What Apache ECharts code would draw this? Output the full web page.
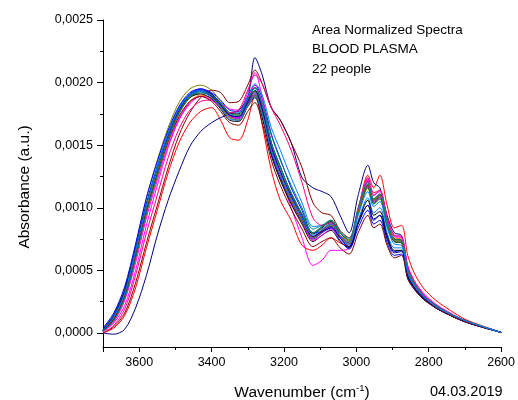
<!DOCTYPE html>
<html>
<head>
<meta charset="utf-8">
<script src="https://cdn.jsdelivr.net/npm/echarts@6/dist/echarts.min.js"></script>
<style>
html,body{margin:0;padding:0;background:#fff;}
#chart{width:518px;height:400px;}
</style>
</head>
<body>
<div id="chart"></div>
<script>
// Wavenumber grid (cm-1)
const wavenumbers = [3700,3670,3640,3610,3580,3550,3520,3490,3460,3430,3400,3375,3350,3325,3300,3280,3260,3235,3210,3180,3150,3120,3095,3070,3045,3020,2995,2968,2952,2935,2915,2895,2875,2858,2840,2815,2780,2740,2700,2650,2600];

// Absorbance values for 22 spectra
const s01 = [0.1e-4,1.1e-4,3.0e-4,6.3e-4,9.9e-4,12.9e-4,15.7e-4,17.8e-4,19.0e-4,19.4e-4,19.1e-4,18.4e-4,17.6e-4,17.5e-4,18.7e-4,19.6e-4,18.2e-4,15.2e-4,13.3e-4,11.1e-4,9.4e-4,7.9e-4,8.4e-4,8.9e-4,8.0e-4,7.4e-4,9.9e-4,12.1e-4,10.7e-4,11.1e-4,8.9e-4,7.5e-4,7.4e-4,5.1e-4,4.0e-4,3.0e-4,2.2e-4,1.5e-4,1.0e-4,0.5e-4,0.05e-4];
const s02 = [0.0e-4,0.4e-4,1.4e-4,3.6e-4,6.8e-4,9.8e-4,12.8e-4,15.2e-4,16.8e-4,17.7e-4,18.0e-4,17.0e-4,15.6e-4,15.4e-4,17.0e-4,19.0e-4,16.6e-4,13.0e-4,10.6e-4,9.0e-4,7.0e-4,6.6e-4,7.0e-4,7.6e-4,7.2e-4,6.9e-4,9.8e-4,12.6e-4,11.6e-4,12.6e-4,10.2e-4,8.4e-4,8.6e-4,6.2e-4,4.8e-4,3.6e-4,2.6e-4,1.8e-4,1.1e-4,0.55e-4,0.05e-4];
const s03 = [0.2e-4,1.3e-4,3.2e-4,6.5e-4,10.2e-4,13.2e-4,15.9e-4,17.9e-4,19.1e-4,19.5e-4,19.2e-4,18.6e-4,17.8e-4,17.7e-4,18.9e-4,19.8e-4,18.7e-4,15.9e-4,13.9e-4,11.6e-4,9.8e-4,8.0e-4,8.1e-4,8.4e-4,7.6e-4,6.8e-4,8.8e-4,10.2e-4,9.0e-4,9.4e-4,7.6e-4,6.5e-4,6.6e-4,4.6e-4,3.6e-4,2.8e-4,2.0e-4,1.4e-4,0.9e-4,0.45e-4,0.05e-4];
const s04 = [0.1e-4,0.8e-4,2.2e-4,5.0e-4,8.6e-4,11.8e-4,14.8e-4,17.0e-4,18.3e-4,18.9e-4,18.8e-4,18.4e-4,17.9e-4,17.8e-4,19.2e-4,20.8e-4,18.8e-4,15.2e-4,12.6e-4,10.0e-4,7.6e-4,5.4e-4,5.8e-4,6.6e-4,6.6e-4,6.8e-4,9.6e-4,12.2e-4,11.0e-4,11.4e-4,9.2e-4,7.8e-4,7.7e-4,5.4e-4,4.2e-4,3.2e-4,2.3e-4,1.6e-4,1.0e-4,0.5e-4,0.05e-4];
const s05 = [0.3e-4,1.5e-4,3.6e-4,7.0e-4,10.8e-4,13.8e-4,16.4e-4,18.4e-4,19.5e-4,19.8e-4,19.4e-4,18.5e-4,17.6e-4,17.4e-4,18.6e-4,19.3e-4,17.8e-4,14.8e-4,12.8e-4,10.8e-4,9.1e-4,7.6e-4,8.2e-4,8.8e-4,7.8e-4,7.1e-4,9.4e-4,11.6e-4,10.3e-4,10.8e-4,8.6e-4,7.3e-4,7.2e-4,5.0e-4,3.9e-4,2.9e-4,2.1e-4,1.5e-4,1.0e-4,0.5e-4,0.05e-4];
const s06 = [0.0e-4,-0.1e-4,0.3e-4,2.0e-4,4.6e-4,7.8e-4,10.6e-4,12.9e-4,14.9e-4,16.1e-4,16.8e-4,17.2e-4,17.5e-4,17.8e-4,18.8e-4,22.0e-4,20.6e-4,18.0e-4,17.0e-4,15.2e-4,12.4e-4,11.6e-4,11.3e-4,10.9e-4,9.4e-4,8.0e-4,11.0e-4,13.4e-4,12.0e-4,11.6e-4,9.4e-4,8.0e-4,7.8e-4,5.2e-4,4.0e-4,3.0e-4,2.2e-4,1.5e-4,1.0e-4,0.5e-4,0.05e-4];
const s07 = [0.2e-4,1.2e-4,3.1e-4,6.4e-4,10.0e-4,13.0e-4,15.8e-4,17.8e-4,19.0e-4,19.4e-4,19.0e-4,18.2e-4,17.3e-4,17.1e-4,18.3e-4,19.1e-4,17.7e-4,14.7e-4,12.7e-4,10.7e-4,9.0e-4,7.6e-4,8.1e-4,8.6e-4,7.7e-4,7.1e-4,9.6e-4,11.7e-4,10.4e-4,10.8e-4,8.6e-4,7.3e-4,7.2e-4,4.9e-4,3.8e-4,2.9e-4,2.1e-4,1.5e-4,1.0e-4,0.5e-4,0.05e-4];
const s08 = [0.0e-4,0.5e-4,1.6e-4,4.0e-4,7.2e-4,10.2e-4,13.2e-4,15.8e-4,17.6e-4,18.8e-4,19.4e-4,19.2e-4,18.4e-4,18.5e-4,19.8e-4,21.0e-4,19.9e-4,18.0e-4,17.0e-4,15.2e-4,13.2e-4,10.4e-4,9.6e-4,9.4e-4,8.2e-4,7.6e-4,9.8e-4,11.8e-4,10.6e-4,11.0e-4,8.8e-4,7.5e-4,7.4e-4,5.1e-4,4.0e-4,3.0e-4,2.2e-4,1.5e-4,1.0e-4,0.5e-4,0.05e-4];
const s09 = [0.2e-4,1.2e-4,3.0e-4,6.2e-4,9.8e-4,12.8e-4,15.6e-4,17.6e-4,18.8e-4,19.2e-4,18.9e-4,18.2e-4,17.4e-4,17.3e-4,18.6e-4,19.6e-4,18.4e-4,15.8e-4,13.8e-4,11.8e-4,10.0e-4,8.3e-4,8.6e-4,9.0e-4,8.0e-4,7.4e-4,9.8e-4,11.9e-4,10.6e-4,11.0e-4,8.8e-4,7.4e-4,7.3e-4,5.0e-4,3.9e-4,3.0e-4,2.2e-4,1.5e-4,1.0e-4,0.5e-4,0.05e-4];
const s10 = [0.3e-4,1.4e-4,3.4e-4,6.8e-4,10.4e-4,13.4e-4,16.0e-4,18.0e-4,19.1e-4,19.4e-4,19.0e-4,18.4e-4,17.6e-4,17.6e-4,18.9e-4,19.9e-4,19.0e-4,16.4e-4,14.6e-4,12.4e-4,10.4e-4,8.5e-4,8.6e-4,8.8e-4,7.8e-4,7.0e-4,9.0e-4,10.8e-4,9.6e-4,10.0e-4,8.0e-4,6.8e-4,6.8e-4,4.7e-4,3.7e-4,2.8e-4,2.0e-4,1.4e-4,0.9e-4,0.45e-4,0.05e-4];
const s11 = [0.1e-4,1.0e-4,2.7e-4,5.8e-4,9.4e-4,12.4e-4,15.2e-4,17.2e-4,18.5e-4,19.0e-4,18.7e-4,18.0e-4,17.2e-4,17.0e-4,18.2e-4,19.0e-4,17.4e-4,14.3e-4,12.3e-4,10.4e-4,8.8e-4,7.4e-4,8.0e-4,8.6e-4,7.8e-4,7.4e-4,10.0e-4,12.4e-4,11.0e-4,11.4e-4,9.1e-4,7.6e-4,7.5e-4,5.2e-4,4.0e-4,3.1e-4,2.2e-4,1.5e-4,1.0e-4,0.5e-4,0.05e-4];
const s12 = [0.2e-4,1.1e-4,2.9e-4,6.1e-4,9.7e-4,12.7e-4,15.5e-4,17.6e-4,18.9e-4,19.3e-4,19.0e-4,18.2e-4,17.4e-4,17.2e-4,18.4e-4,19.2e-4,17.8e-4,14.8e-4,12.9e-4,10.9e-4,9.2e-4,7.7e-4,8.2e-4,8.7e-4,7.8e-4,7.2e-4,9.7e-4,11.8e-4,10.5e-4,10.9e-4,8.7e-4,7.3e-4,7.2e-4,4.9e-4,3.8e-4,2.9e-4,2.1e-4,1.5e-4,1.0e-4,0.5e-4,0.05e-4];
const s13 = [0.0e-4,0.6e-4,1.9e-4,4.6e-4,8.0e-4,11.0e-4,14.0e-4,16.3e-4,17.8e-4,18.5e-4,18.6e-4,18.2e-4,17.6e-4,17.8e-4,19.4e-4,20.6e-4,19.9e-4,18.0e-4,16.6e-4,14.6e-4,12.0e-4,9.2e-4,8.6e-4,8.8e-4,7.8e-4,7.2e-4,9.8e-4,12.4e-4,11.2e-4,11.4e-4,9.2e-4,7.8e-4,7.7e-4,5.3e-4,4.1e-4,3.1e-4,2.2e-4,1.5e-4,1.0e-4,0.5e-4,0.05e-4];
const s14 = [0.2e-4,1.2e-4,3.1e-4,6.3e-4,9.9e-4,12.9e-4,15.7e-4,17.7e-4,18.9e-4,19.3e-4,18.9e-4,18.1e-4,17.3e-4,17.2e-4,18.5e-4,19.3e-4,18.0e-4,15.2e-4,13.2e-4,11.2e-4,9.5e-4,8.0e-4,8.5e-4,9.0e-4,8.0e-4,7.3e-4,9.6e-4,11.6e-4,10.3e-4,10.7e-4,8.6e-4,7.3e-4,7.2e-4,5.0e-4,3.9e-4,3.0e-4,2.2e-4,1.5e-4,1.0e-4,0.5e-4,0.05e-4];
const s15 = [0.2e-4,1.3e-4,3.3e-4,6.6e-4,10.2e-4,13.1e-4,15.8e-4,17.7e-4,18.8e-4,19.1e-4,18.7e-4,17.9e-4,17.0e-4,16.9e-4,18.1e-4,18.8e-4,17.2e-4,14.2e-4,12.2e-4,10.3e-4,8.7e-4,7.3e-4,7.8e-4,8.2e-4,7.3e-4,6.8e-4,8.8e-4,10.6e-4,9.4e-4,9.7e-4,7.8e-4,6.6e-4,6.6e-4,4.6e-4,3.6e-4,2.8e-4,2.0e-4,1.4e-4,0.9e-4,0.45e-4,0.05e-4];
const s16 = [0.4e-4,1.6e-4,3.7e-4,7.1e-4,10.8e-4,13.7e-4,16.2e-4,18.1e-4,19.2e-4,19.5e-4,19.1e-4,18.3e-4,17.4e-4,17.2e-4,18.3e-4,19.0e-4,17.5e-4,14.4e-4,12.4e-4,10.5e-4,8.9e-4,7.5e-4,8.0e-4,8.4e-4,7.4e-4,6.7e-4,8.4e-4,9.8e-4,8.7e-4,9.0e-4,7.2e-4,6.2e-4,6.3e-4,4.4e-4,3.5e-4,2.7e-4,2.0e-4,1.4e-4,0.9e-4,0.45e-4,0.05e-4];
const s17 = [0.1e-4,0.9e-4,2.6e-4,5.6e-4,9.2e-4,12.2e-4,15.0e-4,17.1e-4,18.4e-4,18.9e-4,18.6e-4,18.0e-4,17.3e-4,17.2e-4,18.7e-4,19.8e-4,18.2e-4,15.0e-4,12.9e-4,10.8e-4,9.0e-4,7.4e-4,7.8e-4,8.3e-4,7.6e-4,7.2e-4,9.9e-4,12.3e-4,11.0e-4,11.3e-4,9.1e-4,7.7e-4,7.6e-4,5.2e-4,4.0e-4,3.1e-4,2.2e-4,1.5e-4,1.0e-4,0.5e-4,0.05e-4];
const s18 = [0.2e-4,1.2e-4,3.1e-4,6.4e-4,10.0e-4,13.0e-4,15.7e-4,17.7e-4,18.9e-4,19.3e-4,18.9e-4,18.1e-4,17.2e-4,17.0e-4,18.2e-4,19.0e-4,17.5e-4,14.6e-4,12.6e-4,10.6e-4,9.0e-4,7.6e-4,8.1e-4,8.6e-4,7.7e-4,7.1e-4,9.6e-4,11.9e-4,10.6e-4,11.0e-4,8.8e-4,7.4e-4,7.3e-4,5.0e-4,3.9e-4,3.0e-4,2.1e-4,1.5e-4,1.0e-4,0.5e-4,0.05e-4];
const s19 = [0.3e-4,1.4e-4,3.4e-4,6.7e-4,10.3e-4,13.2e-4,15.8e-4,17.8e-4,19.0e-4,19.3e-4,18.9e-4,18.2e-4,17.4e-4,17.3e-4,18.5e-4,19.4e-4,17.9e-4,14.9e-4,12.9e-4,10.9e-4,9.2e-4,7.7e-4,8.1e-4,8.5e-4,7.6e-4,6.9e-4,8.7e-4,10.2e-4,9.1e-4,9.4e-4,7.5e-4,6.4e-4,6.5e-4,4.5e-4,3.6e-4,2.8e-4,2.0e-4,1.4e-4,0.9e-4,0.45e-4,0.05e-4];
const s20 = [0.2e-4,1.1e-4,2.9e-4,6.1e-4,9.7e-4,12.6e-4,15.3e-4,17.3e-4,18.5e-4,18.9e-4,18.5e-4,17.7e-4,16.8e-4,16.6e-4,17.7e-4,18.4e-4,16.8e-4,13.8e-4,11.8e-4,9.9e-4,8.3e-4,6.9e-4,7.3e-4,7.6e-4,6.8e-4,6.3e-4,8.0e-4,9.4e-4,8.4e-4,8.7e-4,7.0e-4,6.0e-4,6.2e-4,4.3e-4,3.5e-4,2.7e-4,2.0e-4,1.4e-4,0.9e-4,0.45e-4,0.05e-4];
const s21 = [0.1e-4,1.0e-4,2.8e-4,6.0e-4,9.6e-4,12.6e-4,15.4e-4,17.5e-4,18.8e-4,19.3e-4,19.0e-4,18.3e-4,17.5e-4,17.4e-4,18.7e-4,19.6e-4,18.2e-4,15.2e-4,13.2e-4,11.2e-4,9.5e-4,8.0e-4,8.5e-4,9.0e-4,8.1e-4,7.5e-4,10.0e-4,12.0e-4,10.7e-4,11.1e-4,8.9e-4,7.5e-4,7.4e-4,5.1e-4,4.0e-4,3.0e-4,2.2e-4,1.5e-4,1.0e-4,0.5e-4,0.05e-4];
const s22 = [0.2e-4,1.3e-4,3.2e-4,6.6e-4,10.2e-4,13.2e-4,15.9e-4,17.9e-4,19.0e-4,19.3e-4,18.8e-4,18.0e-4,17.1e-4,17.0e-4,18.2e-4,18.9e-4,17.5e-4,14.6e-4,12.7e-4,10.8e-4,9.2e-4,7.8e-4,8.3e-4,8.7e-4,7.8e-4,7.2e-4,9.4e-4,11.3e-4,10.1e-4,10.5e-4,8.4e-4,7.1e-4,7.0e-4,4.8e-4,3.8e-4,2.9e-4,2.1e-4,1.5e-4,1.0e-4,0.5e-4,0.05e-4];

const spectra = [s01,s02,s03,s04,s05,s06,s07,s08,s09,s10,s11,s12,s13,s14,s15,s16,s17,s18,s19,s20,s21,s22];
const seriesColors = ['#000000','#FF0000','#0000FF','#FF00FF','#808000','#000080','#8000FF','#800000','#008080','#0080FF','#FF8000','#800080','#FF0080','#008000','#000000','#0000FF','#FF00FF','#808000','#000080','#800000','#008080','#0080FF'];

// Axis ticks
const yMajorTicks = [0, 0.0005, 0.0010, 0.0015, 0.0020, 0.0025];
const yMinorTicks = [0.00025, 0.00075, 0.00125, 0.00175, 0.00225];
const xMin = 2600, xMax = 3700, xStep = 200;
const yMin = -0.000112, yMax = 0.0025;

// Texts
const annotationLines = ['Area Normalized Spectra', 'BLOOD PLASMA', '22 people'];
const dateText = '04.03.2019';
const yTitle = 'Absorbance (a.u.)';

const FONT = '"Liberation Sans", Arial, sans-serif';

const chart = echarts.init(document.getElementById('chart'), null, {renderer: 'canvas'});

const series = spectra.map((vals, i) => ({
  name: 'Sample ' + (i + 1),
  type: 'line',
  xAxisIndex: 0,
  yAxisIndex: 0,
  data: wavenumbers.map((w, j) => [w, vals[j]]),
  showSymbol: false,
  smooth: 0.3,
  lineStyle: {width: 1, color: seriesColors[i]},
  itemStyle: {color: seriesColors[i]},
  emphasis: {disabled: true},
  animation: false
}));

const fmtY = v => v.toFixed(4).replace('.', ',');
const fmtX = v => (v === xMax ? '' : String(v));

chart.setOption({
  backgroundColor: '#ffffff',
  animation: false,
  grid: {left: 103, right: 16, top: 20, bottom: 53, containLabel: false},
  xAxis: {
    type: 'value',
    min: xMin, max: xMax, interval: xStep,
    inverse: true,
    axisLine: {show: true, onZero: false, lineStyle: {color: '#000', width: 1}},
    axisTick: {show: true, inside: false, length: 5, lineStyle: {color: '#000', width: 1}},
    minorTick: {show: true, splitNumber: 2, length: 3, lineStyle: {color: '#000', width: 1}},
    splitLine: {show: false},
    minorSplitLine: {show: false},
    axisLabel: {color: '#000', fontFamily: FONT, fontSize: 12.5, margin: 9, formatter: fmtX}
  },
  yAxis: [{
    type: 'value',
    min: yMin, max: yMax,
    axisLine: {show: true, onZero: false, lineStyle: {color: '#000', width: 1}},
    axisTick: {show: true, inside: false, length: 6, customValues: yMajorTicks, lineStyle: {color: '#000', width: 1}},
    splitLine: {show: false},
    axisLabel: {color: '#000', fontFamily: FONT, fontSize: 12.5, margin: 10, customValues: yMajorTicks, formatter: fmtY}
  }, {
    type: 'value',
    min: yMin, max: yMax,
    position: 'left',
    axisLine: {show: false},
    axisTick: {show: true, inside: false, length: 3, customValues: yMinorTicks, lineStyle: {color: '#000', width: 1}},
    splitLine: {show: false},
    axisLabel: {show: false}
  }],
  series: series,
  graphic: [
    {type: 'text', x: 312, y: 30, silent: true, style: {text: annotationLines[0], font: '13.5px ' + FONT, fill: '#000', verticalAlign: 'middle'}},
    {type: 'text', x: 312, y: 49.5, silent: true, style: {text: annotationLines[1], font: '13.5px ' + FONT, fill: '#000', verticalAlign: 'middle'}},
    {type: 'text', x: 312, y: 69, silent: true, style: {text: annotationLines[2], font: '13.5px ' + FONT, fill: '#000', verticalAlign: 'middle'}},
    {type: 'text', x: 430, y: 392, silent: true, style: {text: dateText, font: '14.5px ' + FONT, fill: '#000', verticalAlign: 'middle'}},
    {type: 'text', x: 302, y: 392, silent: true, style: {
      text: '{a|Wavenumber (cm}{s|-1}{a|)}',
      align: 'center', verticalAlign: 'middle',
      rich: {
        a: {fontFamily: FONT, fontSize: 15.5, lineHeight: 18, fill: '#000', color: '#000', verticalAlign: 'bottom'},
        s: {fontFamily: FONT, fontSize: 9.5, lineHeight: 10, fill: '#000', color: '#000', verticalAlign: 'top'}
      }
    }},
    {type: 'text', x: 25, y: 187, rotation: Math.PI / 2, silent: true, style: {text: yTitle, font: '15.5px ' + FONT, fill: '#000', align: 'center', verticalAlign: 'middle'}}
  ]
});
</script>
</body>
</html>
